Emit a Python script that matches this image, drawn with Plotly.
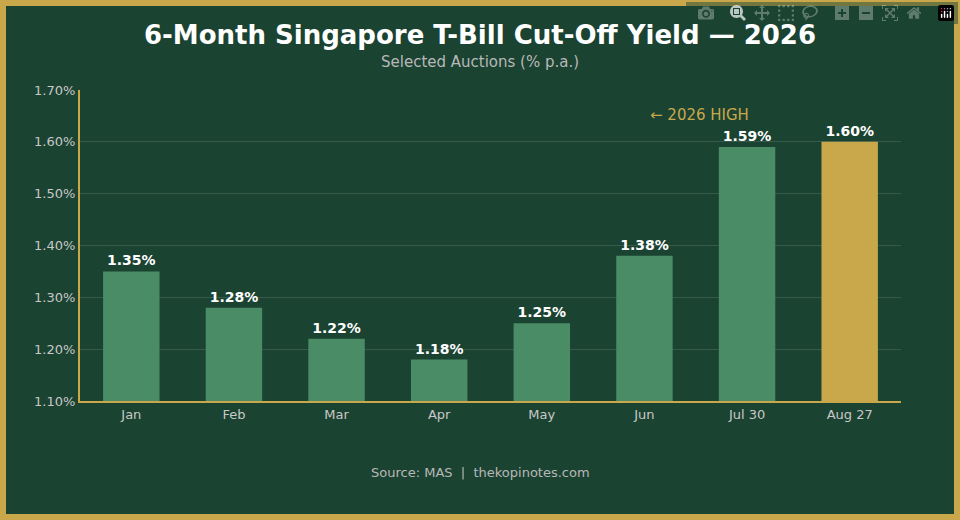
import plotly.graph_objects as go

months = ["Jan", "Feb", "Mar", "Apr", "May", "Jun", "Jul 30", "Aug 27"]
yields = [1.35, 1.28, 1.22, 1.18, 1.25, 1.38, 1.59, 1.60]
bar_colors = ["#4a8c66"] * 7 + ["#c9a84c"]
labels = [f"<b>{v:.2f}%</b>" for v in yields]
tickvals = [1.10, 1.20, 1.30, 1.40, 1.50, 1.60, 1.70]
ticktext = [f"{v:.2f}%" for v in tickvals]

BG = "#1b4332"
GOLD = "#c9a84c"

fig = go.Figure(go.Bar(
    x=months, y=yields, marker=dict(color=bar_colors, line=dict(width=0)), width=0.55,
    text=labels, textposition="outside",
    textfont=dict(color="white", size=14, family="DejaVu Sans"),
    cliponaxis=False,
))

L, R, T, B = 80, 59, 90, 119
W, H = 960, 520
pw, ph = W - L - R, H - T - B

fig.update_layout(
    width=W, height=H, margin=dict(l=L, r=R, t=T, b=B),
    paper_bgcolor=BG, plot_bgcolor=BG, showlegend=False,
    font=dict(family="DejaVu Sans", color="#c8c8c8"),
    title=dict(text="<b>6-Month Singapore T-Bill Cut-Off Yield — 2026</b>",
               x=0.5, xanchor="center", y=1 - 35 / H, yanchor="middle",
               font=dict(size=26, color="white")),
    xaxis=dict(showline=True, linecolor=GOLD, linewidth=2, showgrid=False,
               tickfont=dict(size=13, color="#c8c8c8"), ticks=""),
    yaxis=dict(range=[1.10, 1.70], tickvals=tickvals, ticktext=ticktext,
               showline=True, linecolor=GOLD, linewidth=2,
               gridcolor="rgba(255,255,255,0.12)", zeroline=False,
               tickfont=dict(size=13, color="#c8c8c8")),
    annotations=[
        dict(text="Selected Auctions (% p.a.)", xref="paper", yref="paper",
             x=(480 - L) / pw, y=(H - B - 62) / ph, showarrow=False,
             font=dict(size=15, color="#b8b8b8"), xanchor="center", yanchor="middle"),
        dict(text="← 2026 HIGH", x=5.54, y=1.652, xref="x", yref="y",
             showarrow=False, font=dict(size=15, color=GOLD)),
        dict(text="Source: MAS  |  thekopinotes.com", xref="paper", yref="paper",
             x=(480 - L) / pw, y=(H - B - 473) / ph, showarrow=False,
             font=dict(size=13, color="#b8b8b8"), xanchor="center", yanchor="middle"),
    ],
    shapes=[dict(type="rect", xref="paper", yref="paper",
                 x0=(3 - L) / pw, x1=(957 - L) / pw,
                 y0=(H - B - 517) / ph, y1=(H - B - 3) / ph,
                 line=dict(color=GOLD, width=6), layer="below")],
)
fig.write_html("out.html", post_script="document.body.style.margin='0';document.body.style.background='#1b4332';")
